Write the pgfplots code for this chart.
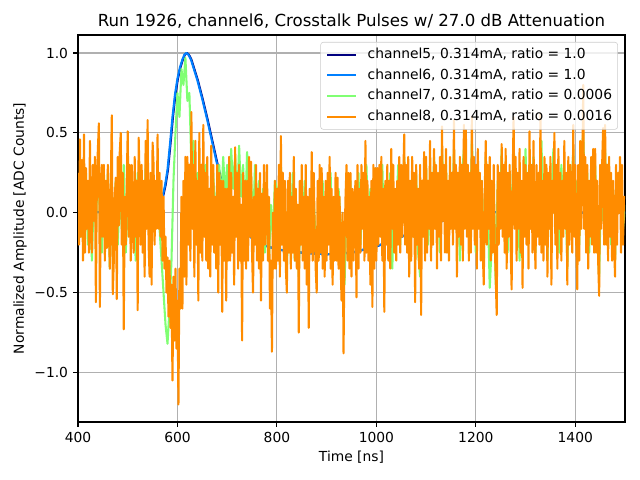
\documentclass[border=0pt]{standalone}
\usepackage{fontspec}
\setmainfont{DejaVu Sans}
\usepackage{pgfplots}
\pgfplotsset{compat=1.18}
\definecolor{cA}{rgb}{0,0,0.5}
\definecolor{cB}{rgb}{0,0.5,1}
\definecolor{cC}{rgb}{0.5,1,0.45}
\definecolor{cD}{rgb}{1,0.55,0}
\definecolor{gridc}{rgb}{0.69,0.69,0.69}
\definecolor{legc}{rgb}{0.8,0.8,0.8}
\begin{document}
\begin{tikzpicture}
\path[use as bounding box] (0,0) rectangle (6.4in,4.8in);
\begin{axis}[
  at={(0.78in,0.58in)}, anchor=south west,
  scale only axis, width=5.47in, height=3.87in,
  xmin=400, xmax=1500, ymin=-1.31, ymax=1.113,
  xtick={400,600,800,1000,1200,1400},
  xticklabels={400,600,800,1000,1200,1400},
  ytick={-1,-0.5,0,0.5,1},
  yticklabels={−1.0,−0.5,0.0,0.5,1.0},
  tick align=outside, tick pos=left,
  major tick length=3.5pt,
  every tick/.style={black, line width=0.8pt},
  axis line style={line width=0.8pt},
  grid=major,
  major grid style={gridc, line width=0.8pt},
  ticklabel style={font=\fontsize{10}{12}\selectfont},
  xticklabel style={inner sep=0pt, yshift=-3.5pt},
  yticklabel style={inner sep=0pt, xshift=-3.5pt},
  xlabel={Time [ns]},
  ylabel={Normalized Amplitude [ADC Counts]},
  xlabel style={at={(axis description cs:0.5,-0.0904)}, anchor=center, font=\fontsize{10}{12}\selectfont},
  ylabel style={at={(axis description cs:-0.106,0.5)}, anchor=center, font=\fontsize{10}{12}\selectfont},
  title={Run 1926, channel6, Crosstalk Pulses w/ 27.0 dB Attenuation},
  title style={at={(axis description cs:0.5,1)}, anchor=base, yshift=0pt, font=\fontsize{12}{14}\selectfont},
  legend style={at={(0.987,0.982)}, anchor=north east, draw=legc, rounded corners=2pt,
    fill=white, fill opacity=0.8, text opacity=1, font=\fontsize{10}{12}\selectfont,
    inner xsep=4pt, inner ysep=4pt, row sep=5pt, column sep=8pt,
    nodes={inner sep=0pt, text height=7.6pt, text depth=2.4pt}},
  legend cell align=left,
  legend image code/.code={\draw[#1] (0cm,0cm) -- (0.72cm,0cm);},
  every axis plot/.append style={line width=1.5pt, line join=round},
]
\addplot[cA] coordinates {
(400,0) (450,0.005) (500,0) (541,0) (556,0.01) (561,0.02) (566,0.05) (571,0.1) (576,0.17) (581,0.27) (586,0.43) (591,0.6) (596,0.74) (601,0.84) (606,0.91) (611,0.96) (615,0.99) (619,1.0) (623,0.99) (628,0.96) (633,0.91) (641,0.83) (651,0.71) (661,0.58) (671,0.44) (681,0.3) (691,0.17) (701,0.08) (711,0.01) (721,-0.04) (731,-0.09) (741,-0.13) (751,-0.16) (771,-0.2) (801,-0.23) (851,-0.25) (901,-0.26) (951,-0.25) (1001,-0.21) (1051,-0.15) (1101,-0.09) (1151,-0.03) (1201,0.0) (1301,0.01) (1401,0.0) (1500,0.0)
};
\addlegendentry{channel5, 0.314mA, ratio = 1.0}
\addplot[cB] coordinates {
(400,0) (450,0.005) (500,0) (540,0) (555,0.01) (560,0.02) (565,0.05) (570,0.1) (575,0.17) (580,0.27) (585,0.43) (590,0.6) (595,0.74) (600,0.84) (605,0.91) (610,0.96) (614,0.99) (618,1.0) (622,0.99) (627,0.96) (632,0.91) (640,0.83) (650,0.71) (660,0.58) (670,0.44) (680,0.3) (690,0.17) (700,0.08) (710,0.01) (720,-0.04) (730,-0.09) (740,-0.13) (750,-0.16) (770,-0.2) (800,-0.23) (850,-0.25) (900,-0.26) (950,-0.25) (1000,-0.21) (1050,-0.15) (1100,-0.09) (1150,-0.03) (1200,0.0) (1300,0.01) (1400,0.0) (1500,0.0)
};
\addlegendentry{channel6, 0.314mA, ratio = 1.0}
\addplot[cC] coordinates {
(400,0.1) (404,-0.15) (408,0.2) (412,-0.05) (416,0.25) (420,-0.2) (424,0.05) (428,-0.3) (432,0.15) (436,-0.1)
(440,0.3) (444,0.0) (448,-0.25) (452,0.2) (456,-0.1) (460,0.25) (464,-0.35) (468,0.1) (472,-0.05) (476,0.2)
(480,-0.2) (484,0.15) (488,-0.1) (492,0.3) (496,-0.25) (500,0.05) (504,0.2) (508,-0.15) (512,0.1) (516,-0.3)
(520,0.25) (524,-0.05) (528,0.15) (532,-0.2) (536,0.3) (540,0.0) (544,-0.15) (548,0.2) (552,-0.1) (556,0.05)
(560,0.1) (564,-0.1) (568,-0.3) (572,-0.5) (576,-0.7) (580,-0.82) (584,-0.6) (588,-0.3) (592,0.2) (596,0.5)
(600,0.75) (604,0.6) (608,0.9) (612,0.8) (616,0.97) (620,0.7) (624,0.75) (628,0.3) (632,0.45) (636,0.1)
(640,0.25) (644,-0.1) (648,0.2) (652,0.05) (656,0.3) (660,-0.15) (664,0.15) (668,0.0) (672,0.25) (676,-0.1)
(680,0.2) (684,0.3) (688,0.05) (692,0.35) (696,0.1) (700,0.3) (704,0.0) (708,0.4) (712,0.15) (716,0.35)
(720,0.05) (724,0.42) (728,0.1) (732,0.3) (736,-0.05) (740,0.38) (744,0.15) (748,0.25) (752,-0.1) (756,0.3)
(760,0.0) (764,0.2) (768,-0.2) (772,0.15) (776,-0.25) (780,0.1) (784,-0.3) (788,0.05) (792,-0.15) (796,0.2)
(800,0.15) (804,-0.25) (808,0.3) (812,-0.1) (816,0.05) (820,-0.35) (824,0.1) (828,-0.2) (832,0.25) (836,-0.3)
(840,0.0) (844,-0.4) (848,0.15) (852,-0.1) (856,0.2) (860,-0.3) (864,0.05) (868,-0.2) (872,0.25) (876,-0.05)
(880,-0.3) (884,0.1) (888,-0.15) (892,0.2) (896,-0.35) (900,0.0) (904,-0.1) (908,0.25) (912,-0.3) (916,0.05)
(920,-0.2) (924,0.15) (928,-0.05) (932,-0.35) (936,-0.45) (940,0.05) (944,-0.2) (948,0.2) (952,-0.25) (956,0.1)
(960,-0.1) (964,0.25) (968,-0.2) (972,0.1) (976,0.0) (980,0.3) (984,-0.15) (988,0.15) (992,-0.3) (996,0.05)
(1000,-0.2) (1004,0.2) (1008,-0.05) (1012,0.3) (1016,-0.3) (1020,0.1) (1024,-0.1) (1028,0.25) (1032,-0.35) (1036,0.1)
(1040,0.0) (1044,0.3) (1048,-0.2) (1052,0.15) (1056,0.35) (1060,-0.1) (1064,0.2) (1068,-0.3) (1072,0.05) (1076,-0.15)
(1080,0.25) (1084,-0.25) (1088,-0.4) (1092,0.15) (1096,-0.05) (1100,0.3) (1104,-0.2) (1108,0.1) (1112,-0.1) (1116,0.35)
(1120,0.0) (1124,0.2) (1128,-0.25) (1132,0.4) (1136,0.05) (1140,0.3) (1144,-0.15) (1148,0.15) (1152,-0.05) (1156,0.4)
(1160,-0.1) (1164,0.25) (1168,-0.3) (1172,0.2) (1176,0.4) (1180,-0.05) (1184,0.2) (1188,-0.2) (1192,0.45) (1196,0.1)
(1200,-0.25) (1204,0.3) (1208,-0.05) (1212,0.2) (1216,-0.35) (1220,0.35) (1224,0.05) (1228,-0.47) (1232,-0.2) (1236,0.15)
(1240,-0.45) (1244,0.2) (1248,-0.1) (1252,0.4) (1256,0.0) (1260,0.3) (1264,-0.25) (1268,0.2) (1272,-0.05) (1276,0.45)
(1280,0.0) (1284,0.25) (1288,-0.3) (1292,0.15) (1296,-0.1) (1300,0.4) (1304,-0.2) (1308,0.2) (1312,0.0) (1316,0.35)
(1320,-0.25) (1324,0.2) (1328,-0.1) (1332,0.45) (1336,-0.15) (1340,0.15) (1344,-0.3) (1348,0.25) (1352,0.05) (1356,0.4)
(1360,-0.1) (1364,0.2) (1368,-0.25) (1372,0.3) (1376,-0.05) (1380,0.2) (1384,-0.35) (1388,0.25) (1392,0.1) (1396,0.4)
(1400,-0.1) (1404,0.2) (1408,-0.2) (1412,0.35) (1416,0.5) (1420,0.0) (1424,0.25) (1428,-0.25) (1432,0.15) (1436,-0.1)
(1440,0.3) (1444,-0.15) (1448,-0.4) (1452,0.2) (1456,-0.05) (1460,0.4) (1464,-0.1) (1468,0.25) (1472,-0.2) (1476,0.15)
(1480,-0.3) (1484,0.2) (1488,0.05) (1492,0.25) (1496,-0.1) (1500,0.05)
};
\addlegendentry{channel7, 0.314mA, ratio = 0.0006}
\addplot[cD] coordinates {
(400,0.25) (402,-0.2) (404,0.46) (406,-0.15) (408,0.33) (410,-0.3) (412,0.49) (414,-0.25) (416,0.28) (418,-0.1)
(420,0.2) (422,-0.25) (424,0.45) (426,-0.1) (428,-0.25) (430,0.3) (432,-0.05) (434,0.35) (436,-0.56) (438,0.22)
(440,0.4) (442,0.56) (444,-0.59) (446,0.15) (448,0.3) (450,-0.15) (452,0.3) (454,-0.3) (456,0.2) (458,-0.22)
(460,0.3) (462,-0.1) (464,-0.35) (466,0.2) (468,0.61) (470,-0.51) (472,-0.3) (474,0.1) (476,0.22) (478,-0.54)
(480,0.35) (482,-0.08) (484,0.38) (486,0.5) (488,-0.2) (490,0.25) (492,-0.73) (494,0.1) (496,-0.2) (498,0.2)
(500,0.51) (502,-0.15) (504,0.3) (506,-0.3) (508,0.3) (510,-0.1) (512,-0.25) (514,0.35) (516,-0.15) (518,0.2)
(520,-0.61) (522,0.47) (524,0.2) (526,-0.2) (528,0.3) (530,-0.25) (532,0.2) (534,-0.4) (536,0.45) (538,-0.1)
(540,0.58) (542,-0.2) (544,-0.4) (546,0.25) (548,-0.45) (550,0.44) (552,0.3) (554,-0.2) (556,0.2) (558,-0.1)
(560,0.49) (562,-0.1) (564,0.25) (566,-0.15) (568,0.2) (570,-0.3) (572,0.1) (574,-0.35) (576,-0.15) (578,-0.5)
(580,-0.28) (582,-0.65) (584,-0.3) (586,-0.72) (588,-0.45) (590,-1.05) (592,-0.4) (594,-0.8) (596,-0.35) (598,-0.85)
(600,-0.55) (602,-1.2) (604,-0.35) (606,-0.6) (608,0.1) (610,-0.6) (612,0.2) (614,-0.4) (616,0.35) (618,-0.45)
(620,0.35) (622,-0.2) (624,0.3) (626,-0.3) (628,0.63) (630,-0.1) (632,0.3) (634,-0.4) (636,0.45) (638,-0.2)
(640,0.2) (642,-0.55) (644,0.5) (646,-0.25) (648,0.3) (650,-0.3) (652,0.55) (654,-0.15) (656,0.25) (658,-0.3)
(660,0.35) (662,-0.35) (664,0.15) (666,-0.4) (668,0.42) (670,-0.2) (672,0.3) (674,-0.25) (676,0.1) (678,-0.35)
(680,0.3) (682,-0.5) (684,0.25) (686,-0.2) (688,0.2) (690,-0.62) (692,0.2) (694,-0.3) (696,0.15) (698,-0.55)
(700,0.15) (702,-0.3) (704,0.35) (706,-0.3) (708,0.25) (710,-0.25) (712,0.1) (714,-0.45) (716,0.41) (718,-0.15)
(720,0.25) (722,-0.35) (724,0.3) (726,-0.3) (728,0.05) (730,-0.8) (732,0.25) (734,-0.3) (736,0.2) (738,-0.35)
(740,0.2) (742,-0.3) (744,0.35) (746,-0.15) (748,0.32) (750,-0.25) (752,-0.5) (754,0.1) (756,-0.2) (758,0.3)
(760,-0.3) (762,0.15) (764,-0.35) (766,0.25) (768,-0.55) (770,0.12) (772,-0.3) (774,0.3) (776,-0.2) (778,0.05)
(780,0.3) (782,-0.3) (784,0.1) (786,-0.6) (788,-0.3) (790,-0.87) (792,0.0) (794,-0.35) (796,0.2) (798,-0.35)
(800,0.15) (802,-0.3) (804,0.3) (806,-0.4) (808,0.48) (810,-0.2) (812,0.25) (814,-0.3) (816,0.2) (818,-0.35)
(820,-0.5) (822,0.2) (824,-0.25) (826,0.25) (828,-0.35) (830,0.1) (832,-0.25) (834,0.35) (836,-0.3) (838,0.15)
(840,-0.35) (842,0.05) (844,-0.75) (846,0.2) (848,-0.2) (850,0.3) (852,-0.3) (854,0.1) (856,-0.35) (858,0.3)
(860,-0.45) (862,0.1) (864,-0.72) (866,0.15) (868,-0.25) (870,0.38) (872,-0.3) (874,0.25) (876,-0.1) (878,-0.35)
(880,-0.5) (882,0.2) (884,-0.3) (886,0.3) (888,-0.25) (890,0.28) (892,-0.35) (894,0.1) (896,-0.4) (898,0.2)
(900,-0.3) (902,0.25) (904,-0.2) (906,0.35) (908,-0.35) (910,0.15) (912,-0.45) (914,0.1) (916,-0.3) (918,0.25)
(920,-0.3) (922,0.22) (924,-0.35) (926,0.1) (928,-0.3) (930,-0.55) (932,0.0) (934,-0.88) (936,-0.2) (938,0.1)
(940,0.3) (942,-0.3) (944,0.25) (946,-0.35) (948,0.25) (950,-0.4) (952,0.15) (954,-0.3) (956,0.05) (958,0.2)
(960,-0.53) (962,0.3) (964,-0.35) (966,0.15) (968,-0.25) (970,0.3) (972,-0.1) (974,0.25) (976,-0.3) (978,0.45)
(980,-0.25) (982,0.2) (984,-0.3) (986,0.1) (988,-0.45) (990,0.2) (992,-0.59) (994,0.3) (996,-0.35) (998,0.28)
(1000,-0.3) (1002,0.28) (1004,-0.2) (1006,0.3) (1008,-0.15) (1010,0.35) (1012,-0.3) (1014,0.15) (1016,-0.62) (1018,0.2)
(1020,-0.2) (1022,0.3) (1024,-0.3) (1026,0.2) (1028,-0.35) (1030,0.4) (1032,-0.1) (1034,0.3) (1036,-0.25) (1038,0.15)
(1040,-0.3) (1042,0.2) (1044,-0.2) (1046,0.35) (1048,-0.25) (1050,0.3) (1052,-0.15) (1054,0.2) (1056,0.49) (1058,-0.2)
(1060,0.3) (1062,-0.25) (1064,0.35) (1066,-0.4) (1068,0.2) (1070,-0.3) (1072,0.35) (1074,-0.15) (1076,0.25) (1078,-0.56)
(1080,0.3) (1082,-0.2) (1084,0.15) (1086,-0.35) (1088,0.3) (1090,-0.64) (1092,0.2) (1094,-0.15) (1096,0.38) (1098,-0.3)
(1100,0.35) (1102,-0.25) (1104,0.2) (1106,-0.1) (1108,0.45) (1110,-0.3) (1112,0.25) (1114,-0.2) (1116,0.4) (1118,-0.1)
(1120,0.3) (1122,-0.35) (1124,0.25) (1126,-0.15) (1128,0.35) (1130,-0.3) (1132,0.54) (1134,-0.05) (1136,0.3) (1138,-0.25)
(1140,0.4) (1142,-0.25) (1144,0.2) (1146,-0.3) (1148,0.35) (1150,-0.1) (1152,0.25) (1154,-0.2) (1156,0.58) (1158,-0.1)
(1160,0.3) (1162,-0.4) (1164,0.25) (1166,-0.15) (1168,0.35) (1170,-0.2) (1172,0.3) (1174,-0.3) (1176,0.55) (1178,-0.1)
(1180,0.52) (1182,-0.15) (1184,0.3) (1186,-0.3) (1188,0.25) (1190,-0.25) (1192,0.6) (1194,-0.1) (1196,0.35) (1198,-0.2)
(1200,0.3) (1202,-0.35) (1204,0.4) (1206,-0.1) (1208,0.25) (1210,-0.3) (1212,0.2) (1214,-0.25) (1216,-0.45) (1218,0.15)
(1220,0.45) (1222,-0.2) (1224,0.3) (1226,-0.1) (1228,0.35) (1230,-0.3) (1232,0.2) (1234,-0.25) (1236,0.3) (1238,-0.2)
(1240,-0.4) (1242,-0.64) (1244,0.3) (1246,-0.2) (1248,0.25) (1250,-0.1) (1252,0.43) (1254,-0.15) (1256,0.3) (1258,-0.25)
(1260,0.4) (1262,-0.35) (1264,0.25) (1266,-0.15) (1268,0.3) (1270,-0.2) (1272,-0.48) (1274,0.2) (1276,0.6) (1278,-0.1)
(1280,0.35) (1282,-0.3) (1284,0.25) (1286,-0.1) (1288,0.4) (1290,-0.25) (1292,0.2) (1294,-0.47) (1296,0.35) (1298,-0.15)
(1300,0.3) (1302,-0.2) (1304,0.25) (1306,-0.35) (1308,0.51) (1310,-0.1) (1312,0.3) (1314,-0.25) (1316,0.45) (1318,-0.1)
(1320,-0.35) (1322,0.3) (1324,-0.15) (1326,0.25) (1328,-0.2) (1330,0.62) (1332,-0.25) (1334,0.2) (1336,-0.3) (1338,0.35)
(1340,-0.2) (1342,0.3) (1344,-0.4) (1346,0.25) (1348,-0.1) (1350,0.35) (1352,-0.45) (1354,0.2) (1356,0.0) (1358,0.5)
(1360,-0.2) (1362,0.3) (1364,-0.35) (1366,0.4) (1368,-0.1) (1370,0.25) (1372,-0.3) (1374,0.2) (1376,-0.15) (1378,0.45)
(1380,-0.1) (1382,0.25) (1384,-0.45) (1386,0.35) (1388,-0.2) (1390,0.3) (1392,0.05) (1394,-0.25) (1396,0.55) (1398,-0.15)
(1400,0.3) (1402,-0.2) (1404,-0.48) (1406,0.3) (1408,-0.3) (1410,0.45) (1412,-0.1) (1414,0.2) (1416,0.8) (1418,-0.1)
(1420,0.35) (1422,-0.25) (1424,0.3) (1426,-0.35) (1428,0.2) (1430,-0.15) (1432,0.35) (1434,-0.2) (1436,0.4) (1438,-0.25)
(1440,0.4) (1442,-0.25) (1444,0.2) (1446,-0.3) (1448,-0.52) (1450,0.3) (1452,-0.1) (1454,0.3) (1456,0.53) (1458,-0.2)
(1460,0.55) (1462,-0.2) (1464,0.3) (1466,-0.3) (1468,0.35) (1470,-0.15) (1472,0.25) (1474,-0.3) (1476,0.2) (1478,-0.2)
(1480,-0.4) (1482,0.3) (1484,-0.2) (1486,0.25) (1488,0.0) (1490,0.35) (1492,-0.25) (1494,0.3) (1496,-0.2) (1498,0.1)
(1500,0.1)
};
\addlegendentry{channel8, 0.314mA, ratio = 0.0016}
\end{axis}
\end{tikzpicture}
\end{document}
